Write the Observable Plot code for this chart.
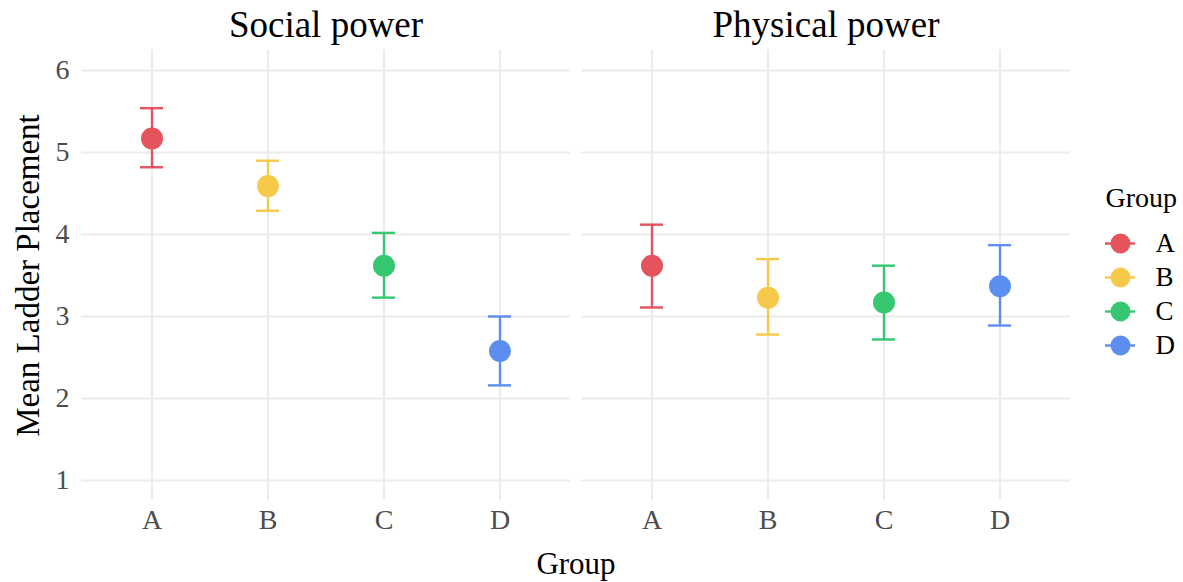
<!DOCTYPE html>
<html>
<head>
<meta charset="utf-8">
<script src="https://cdn.jsdelivr.net/npm/d3@7"></script>
<script src="https://cdn.jsdelivr.net/npm/@observablehq/plot@0.6"></script>
<style>
  body { margin: 0; background: #fff; }
  #wrap { position: relative; width: 1183px; height: 582px; font-family: "Liberation Serif", "DejaVu Serif", serif; }
  #legend { position: absolute; left: 1093px; top: 175px; }
</style>
</head>
<body>
<div id="wrap"><div id="chart"></div><div id="legend"></div></div>
<script>
// Groups and the two facets
const groups = ["A", "B", "C", "D"];
const panels = ["Social power", "Physical power"];

// Mean ladder placement with lower / upper error bounds, per group
const socialMean = [5.17, 4.59, 3.62, 2.58];
const socialLow = [4.82, 4.29, 3.23, 2.16];
const socialHigh = [5.54, 4.90, 4.02, 3.00];

const physicalMean = [3.62, 3.23, 3.17, 3.37];
const physicalLow = [3.11, 2.78, 2.72, 2.89];
const physicalHigh = [4.12, 3.70, 3.62, 3.87];

const yTicks = [1, 2, 3, 4, 5, 6];
const palette = ["#E5535C", "#F7C94B", "#35C870", "#5C8EF0"];

const series = [
  {mean: socialMean, low: socialLow, high: socialHigh},
  {mean: physicalMean, low: physicalLow, high: physicalHigh}
];
const rows = panels.flatMap((panel, p) =>
  groups.map((group, i) => ({
    panel, group,
    mean: series[p].mean[i],
    low: series[p].low[i],
    high: series[p].high[i]
  }))
);

const serif = "Liberation Serif, DejaVu Serif, serif";
const gridColor = "#ebebeb";

const chart = Plot.plot({
  width: 1183,
  height: 582,
  marginLeft: 81,
  marginRight: 113,
  marginTop: 49.5,
  marginBottom: 81.5,
  style: {fontFamily: serif, background: "white", color: "black"},
  fx: {domain: panels, paddingInner: 0.022, paddingOuter: 0, label: null},
  x: {domain: groups, type: "band", paddingInner: 0.8, paddingOuter: 0.5, label: null},
  y: {domain: [0.75, 6.25], label: null},
  color: {domain: groups, range: palette},
  marks: [
    Plot.gridY(yTicks, {stroke: gridColor, strokeOpacity: 1, strokeWidth: 2}),
    Plot.gridX(groups, {stroke: gridColor, strokeOpacity: 1, strokeWidth: 2}),
    Plot.axisFx({anchor: "top", tickSize: 0, tickPadding: 13, fontSize: 37, label: null, fill: "black"}),
    Plot.axisY(yTicks, {tickSize: 0, tickPadding: 12, fontSize: 28, fill: "#4d4d4d", label: null, tickFormat: d => String(d)}),
    Plot.axisX({tickSize: 0, tickPadding: 8, fontSize: 28, fill: "#4d4d4d", label: null}),
    Plot.text(["Mean Ladder Placement"], {
      facet: "super", frameAnchor: "left", textAnchor: "middle",
      rotate: -90, dx: -53, fontSize: 33, fill: "black"
    }),
    Plot.text(["Group"], {
      facet: "super", frameAnchor: "bottom", textAnchor: "middle",
      dy: 73, fontSize: 31, fill: "black"
    }),
    // error bars with caps
    Plot.ruleX(rows, {fx: "panel", x: "group", y1: "low", y2: "high", stroke: "group", strokeWidth: 2.4}),
    Plot.tickY(rows, {fx: "panel", x: "group", y: "low", stroke: "group", strokeWidth: 2.4}),
    Plot.tickY(rows, {fx: "panel", x: "group", y: "high", stroke: "group", strokeWidth: 2.4}),
    // means
    Plot.dot(rows, {fx: "panel", x: "group", y: "mean", fill: "group", r: 11})
  ]
});
document.getElementById("chart").append(chart);

// Legend: a dot with a short line through it per group
const legend = Plot.plot({
  width: 90,
  height: 190,
  marginTop: 51,
  marginBottom: 3,
  marginLeft: 12,
  marginRight: 48,
  style: {fontFamily: serif, background: "transparent", color: "black"},
  x: {domain: ["key"], type: "band", padding: 0, axis: null},
  y: {domain: groups, type: "band", padding: 0, axis: null},
  color: {domain: groups, range: palette},
  marks: [
    Plot.text(["Group"], {frameAnchor: "top-left", dy: -39, fontSize: 28, fill: "black"}),
    Plot.tickY(groups, {x: () => "key", y: d => d, stroke: d => d, strokeWidth: 2.4}),
    Plot.dot(groups, {x: () => "key", y: d => d, fill: d => d, r: 10}),
    Plot.text(groups, {x: () => "key", y: d => d, text: d => d, dx: 35, textAnchor: "start", fontSize: 27, fill: "black"})
  ]
});
document.getElementById("legend").append(legend);
</script>
</body>
</html>
